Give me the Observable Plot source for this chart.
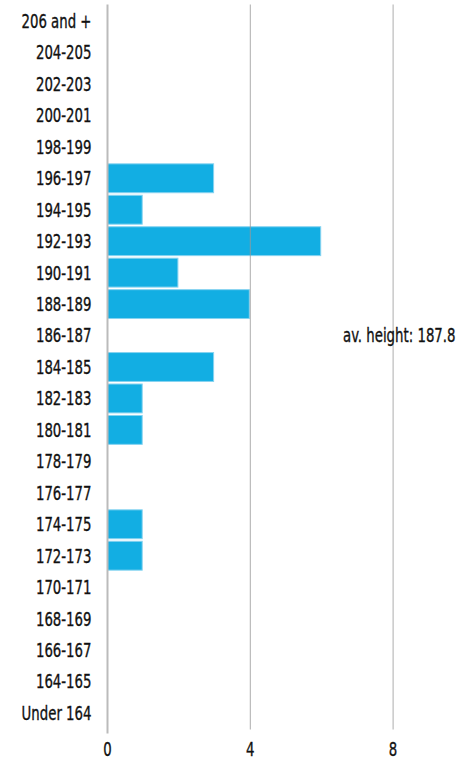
<!DOCTYPE html>
<html>
<head>
<meta charset="utf-8">
<script src="https://cdn.jsdelivr.net/npm/d3@7"></script>
<script src="https://cdn.jsdelivr.net/npm/@observablehq/plot@0.6"></script>
<style>
  html, body { margin: 0; padding: 0; background: #fff; }
  #chart svg { display: block; }
  #chart svg text { font-stretch: condensed; stroke: #111; stroke-width: 0.35px; }
</style>
</head>
<body>
<div id="chart"></div>
<script>
const categories = ["206 and +","204-205","202-203","200-201","198-199","196-197","194-195","192-193","190-191","188-189","186-187","184-185","182-183","180-181","178-179","176-177","174-175","172-173","170-171","168-169","166-167","164-165","Under 164"];
const counts = [0,0,0,0,0,3,1,6,2,4,0,3,1,1,0,0,1,1,0,0,0,0,0];
const xTicks = [0, 4, 8];
const averageLabel = "av. height: 187.8";
const averageRow = "186-187";

const data = categories.map((c, i) => ({category: c, count: counts[i]}));
const font = "'DejaVu Sans Condensed', 'DejaVu Sans', sans-serif";
const fs = 20;
const squeeze = 0.74;

const chart = Plot.plot({
  width: 467,
  height: 760,
  marginLeft: 107,
  marginRight: 3,
  marginTop: 4.5,
  marginBottom: 30.5,
  style: {fontFamily: font, fontSize: fs + "px", color: "#111", background: "#fff"},
  x: {domain: [0, 10], ticks: xTicks, label: null, axis: null},
  y: {domain: categories, label: null, padding: 0.05, round: false, axis: null},
  marks: [
    Plot.barX(data.filter(d => d.count > 0), {
      x: "count", y: "category", fill: "#12aee3", stroke: "#86d3f0", strokeWidth: 1, inset: 0.5
    }),
    Plot.ruleX(xTicks.filter(t => t > 0), {stroke: "#999", strokeWidth: 1, strokeOpacity: 0.8}),
    Plot.ruleX([0], {stroke: "#bbb", strokeWidth: 2, insetBottom: -4}),
    Plot.axisY({tickSize: 0, tickPadding: 16, fontSize: fs, label: null}),
    Plot.axisX({ticks: xTicks, tickSize: 0, tickPadding: 12, fontSize: fs, label: null, tickFormat: d => String(d)}),
    Plot.text([{label: averageLabel, category: averageRow}], {
      y: "category", text: "label", frameAnchor: "right", textAnchor: "end", dx: -9, fontSize: fs, fill: "#111"
    })
  ]
});

// narrow the glyphs horizontally around each text's own anchor point
chart.querySelectorAll("text").forEach(t => {
  const ax = parseFloat(t.getAttribute("x") || 0);
  const ay = parseFloat(t.getAttribute("y") || 0);
  const prev = t.getAttribute("transform") || "";
  t.setAttribute("transform", `${prev} translate(${ax},${ay}) scale(${squeeze},1) translate(${-ax},${-ay})`.trim());
});

document.getElementById("chart").appendChild(chart);
</script>
</body>
</html>
